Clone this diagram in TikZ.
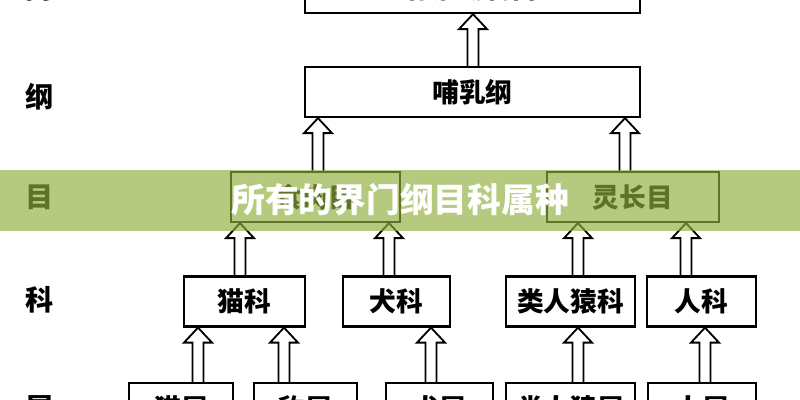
\documentclass[tikz,border=0pt]{standalone}
\usepackage{fontspec}
\usepackage{xcolor}
\definecolor{bannergreen}{RGB}{144,174,61}
\newfontfamily\cjk{Noto Sans CJK SC}
\usetikzlibrary{calc}
\tikzset{
  taxbox/.style={draw,line width=1.6pt,inner sep=0pt,minimum height=50*0.025cm,
    minimum width=#1*0.025cm,font=\cjk\bfseries\fontsize{19}{19}\selectfont},
  ranklbl/.style={font=\cjk\bfseries\fontsize{20}{20}\selectfont},
  hollowup/.style={line width=1.3pt,line join=miter},
}

\begin{document}
\begin{tikzpicture}[x=0.025cm,y=-0.025cm]
\useasboundingbox (0,0) rectangle (800,400);
\node[ranklbl] (lmen) at (40,-12) {门};
\node[ranklbl] (lgang) at (40,97) {纲};
\node[ranklbl] (lmu) at (40,197) {目};
\node[ranklbl] (lke) at (40,300) {科};
\node[ranklbl] (lshu) at (40,408) {属};
\node[taxbox=335] (men) at (472.5,-12) {脊索动物门};
\node[taxbox=335] (gang) at (472.5,92) {哺乳纲};
\node[taxbox=169] (shirou) at (315.5,197) {食肉目};
\node[taxbox=172] (lingzhang) at (633,197) {灵长目};
\node[taxbox=121] (maoke) at (244.5,301.5) {猫科};
\node[taxbox=107] (quanke) at (396.5,301.5) {犬科};
\node[taxbox=129] (leirenyuanke) at (570.5,301.5) {类人猿科};
\node[taxbox=109] (renke) at (701.5,301.5) {人科};
\node[taxbox=104] (maoshu) at (181,408) {猫属};
\node[taxbox=103] (baoshu) at (305.5,408) {豹属};
\node[taxbox=107] (quanshu) at (439.5,408) {犬属};
\node[taxbox=129] (leirenyuanshu) at (570.5,408) {类人猿属};
\node[taxbox=108] (renshu) at (702,408) {人属};
\foreach \lo/\hi/\x in {gang/men/473,shirou/gang/318,lingzhang/gang/625,
  maoke/shirou/240,quanke/shirou/389,leirenyuanke/lingzhang/578,renke/lingzhang/686,
  maoshu/maoke/198,baoshu/maoke/284,quanshu/quanke/431,
  leirenyuanshu/leirenyuanke/578,renshu/renke/705}{
  \coordinate (base) at (\lo.north -| \x,0);
  \coordinate (tip) at (\hi.south -| \x,0);
  \draw[hollowup] ($(base)+(-5.5,0)$) -- ($(tip)+(-5.5,15)$) -- ++(-8.5,0) -- (tip)
    -- ++(14,15) -- ++(-8.5,0) -- ($(base)+(5.5,0)$);
}
\fill[bannergreen,opacity=0.66] (0,170) rectangle (800,231);
\node[text=white,font=\cjk\bfseries\fontsize{24}{24}\selectfont] (title) at (400,200) {所有的界门纲目科属种};
\end{tikzpicture}
\end{document}
